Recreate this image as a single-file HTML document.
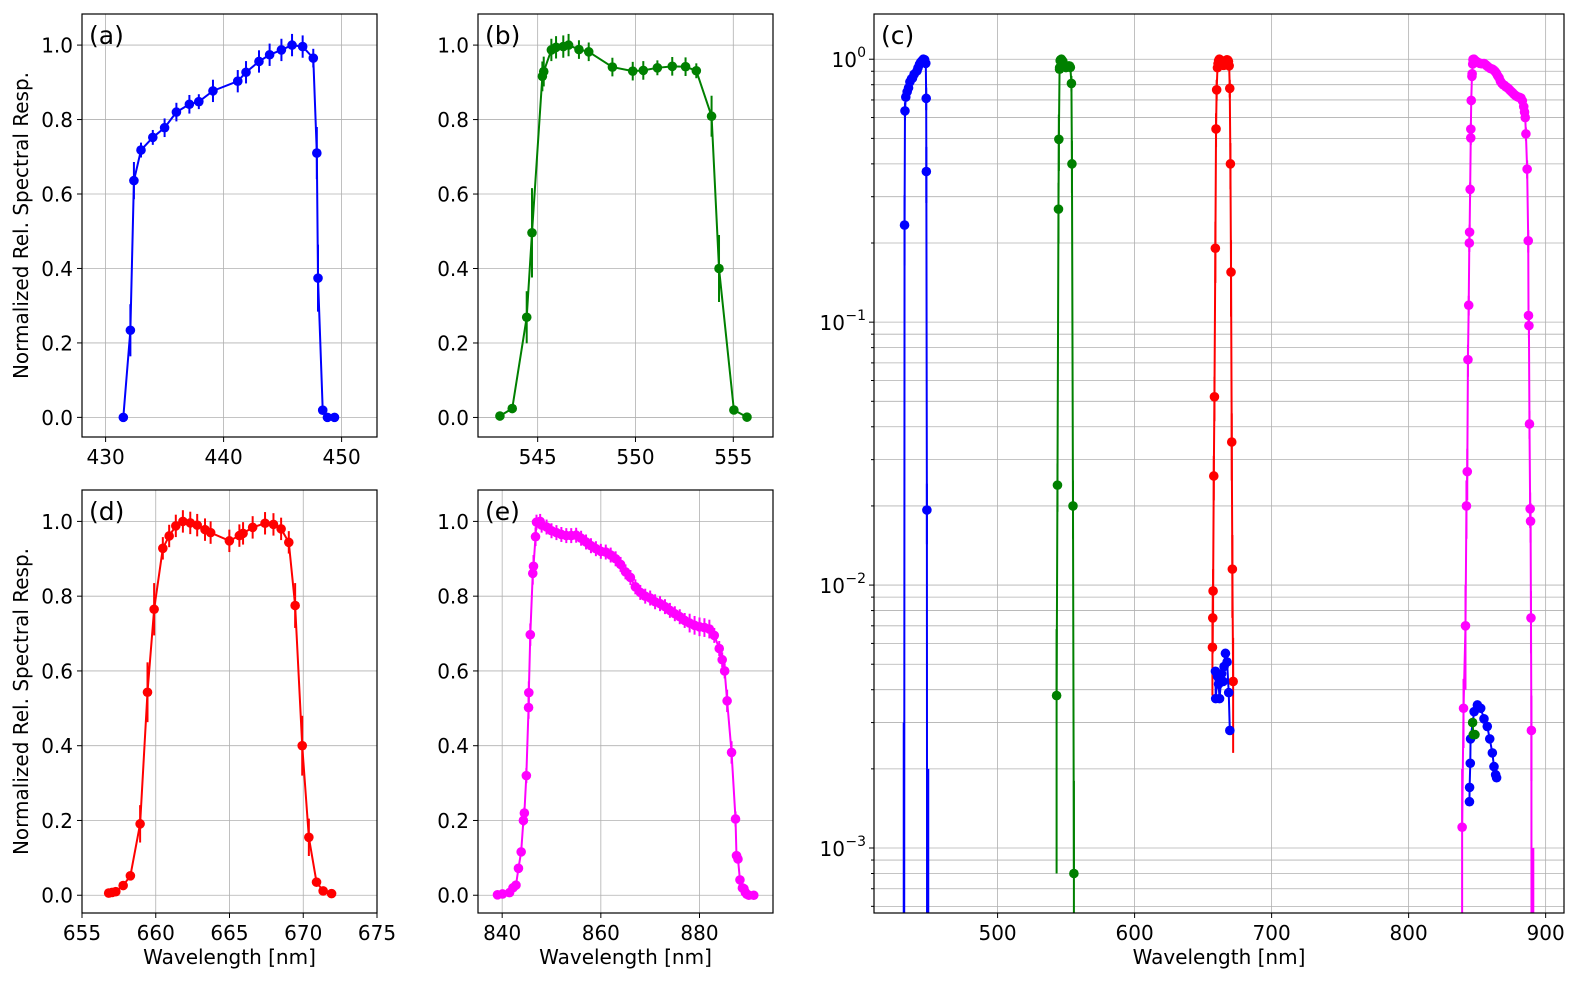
<!DOCTYPE html>
<html><head><meta charset="utf-8">
<style>
html,body{margin:0;padding:0;background:#fff;width:1580px;height:981px;overflow:hidden;}
svg{display:block;font-family:"DejaVu Sans","Liberation Sans",sans-serif;}
</style></head>
<body>
<svg id="fig" width="1580" height="981" viewBox="0 0 1580 981" xmlns="http://www.w3.org/2000/svg"></svg>
<script>
// ---- panel (a) blue ----
const aX=[431.5,432.1,432.4,433.0,434.0,435.0,436.0,437.1,437.9,439.1,441.2,441.9,443.0,443.9,444.9,445.8,446.7,447.6,447.9,448.0,448.4,448.8,449.4];
const aY=[0,0.234,0.636,0.718,0.752,0.778,0.82,0.841,0.848,0.877,0.903,0.927,0.956,0.974,0.987,1.0,0.996,0.965,0.71,0.374,0.0193,0,0];
const aE=[0.003,0.07,0.05,0.02,0.02,0.025,0.025,0.025,0.02,0.03,0.03,0.03,0.03,0.03,0.03,0.03,0.03,0.025,0.07,0.09,0.005,0.002,0.002];
// ---- panel (b) green ----
const bX=[543.07,543.7,544.44,544.71,545.24,545.31,545.7,545.94,546.31,546.58,547.11,547.61,548.82,549.86,550.4,551.12,551.88,552.56,553.11,553.89,554.27,555.03,555.7];
const bY=[0.0038,0.024,0.269,0.496,0.916,0.929,0.987,0.994,0.996,1.0,0.988,0.982,0.941,0.93,0.932,0.939,0.943,0.942,0.931,0.809,0.40,0.02,0.0008];
const bE=[0.003,0.005,0.07,0.12,0.04,0.04,0.03,0.03,0.03,0.03,0.025,0.025,0.025,0.025,0.025,0.02,0.025,0.025,0.02,0.055,0.09,0.005,0.001];
// ---- panel (d) red ----
const dX=[656.81,657.04,657.29,657.79,658.28,658.94,659.44,659.89,660.48,660.91,661.36,661.84,662.34,662.81,663.34,663.72,664.99,665.67,665.92,666.57,667.41,667.98,668.5,669.02,669.45,669.93,670.38,670.9,671.35,671.92];
const dY=[0.0058,0.0075,0.0095,0.026,0.052,0.191,0.543,0.765,0.928,0.961,0.988,1.0,0.996,0.99,0.978,0.97,0.948,0.962,0.968,0.984,0.995,0.992,0.98,0.944,0.775,0.40,0.155,0.035,0.0115,0.0043];
const dE=[0.002,0.002,0.002,0.005,0.01,0.05,0.08,0.07,0.03,0.03,0.03,0.03,0.03,0.03,0.03,0.03,0.03,0.03,0.03,0.03,0.03,0.03,0.03,0.03,0.06,0.08,0.05,0.01,0.004,0.002];
// ---- panel (e) magenta ----
const eX=[839.05,840.07,841.5,842.2,842.8,843.3,843.85,844.3,844.5,844.9,845.35,845.4,845.7,846.2,846.35,846.76,846.96,847.7,848,849,850,851,852,853,854,855,856,857,858,859,860,861,862,863,864,865,866,867,868,869,870,871,872,873,874,875,876,877,878,879,880,881,882,883,884,884.6,885.1,885.6,886.5,887.3,887.5,887.8,888.2,888.7,889.0,889.3,889.6,890,891];
const eY=[0.0012,0.0034,0.007,0.02,0.027,0.072,0.116,0.2,0.22,0.32,0.502,0.542,0.697,0.861,0.88,0.959,0.998,1.0,0.99,0.985,0.975,0.97,0.965,0.962,0.962,0.963,0.955,0.945,0.935,0.927,0.92,0.918,0.91,0.9,0.885,0.865,0.85,0.825,0.81,0.8,0.795,0.785,0.78,0.772,0.762,0.753,0.745,0.735,0.728,0.722,0.718,0.716,0.712,0.695,0.66,0.63,0.6,0.52,0.382,0.204,0.106,0.097,0.041,0.0195,0.0175,0.0075,0.0028,0,0];
const eE=[0.0008,0.001,0.003,0.005,0.006,0.01,0.01,0.015,0.015,0.02,0.03,0.03,0.03,0.03,0.03,0.025,0.02,0.02,0.02,0.02,0.02,0.02,0.02,0.02,0.02,0.02,0.02,0.02,0.02,0.02,0.02,0.02,0.02,0.02,0.02,0.02,0.02,0.02,0.02,0.02,0.02,0.02,0.02,0.02,0.02,0.02,0.02,0.02,0.025,0.025,0.025,0.025,0.025,0.02,0.02,0.02,0.02,0.03,0.03,0.02,0.01,0.01,0.005,0.003,0.003,0.002,0.001,0.001,0.001];
// ---- panel (c) out-of-band leak series ----
const leakBlueRedX=[659.0,659.2,660.5,661.3,662.0,663.5,664.6,665.3,666.3,667.5,668.7,669.5];
const leakBlueRedY=[0.0047,0.0037,0.0045,0.0042,0.0037,0.0046,0.0043,0.0049,0.0055,0.0051,0.0039,0.0028];
const leakBlueNirX=[844.4,844.5,845.0,845.2,847.8,850.2,852.6,855.0,857.4,859.2,861.1,862.3,863.5,864.2];
const leakBlueNirY=[0.0015,0.0017,0.0021,0.0026,0.0033,0.0035,0.0034,0.0031,0.0029,0.0026,0.0023,0.00204,0.0019,0.00185];
const leakGreenNirX=[846.7,847.2,848.4];
const leakGreenNirY=[0.003,0.0027,0.0027];
const linTicks=[0,0.2,0.4,0.6,0.8,1.0];
const linTickLabels=["0.0","0.2","0.4","0.6","0.8","1.0"];

const FS=20;
const NS="http://www.w3.org/2000/svg";
const svg=document.getElementById('fig');
function mk(tag,attrs,parent){const e=document.createElementNS(NS,tag);for(const k in attrs)e.setAttribute(k,attrs[k]);(parent||svg).appendChild(e);return e;}

function panel(p){
  const g=mk('g',{});
  
  
  const W=p.r-p.l,H=p.b-p.t;
  const sx=v=>p.l+(v-p.x0)/(p.x1-p.x0)*W;
  const sy=p.log?(v=>{const lv=Math.log10(Math.max(v,1e-7));return p.b-(lv-Math.log10(p.y0))/(Math.log10(p.y1)-Math.log10(p.y0))*H;})
                :(v=>p.b-(v-p.y0)/(p.y1-p.y0)*H);
  const cid='clip-'+p.id;
  const cp=mk('clipPath',{id:cid},g);mk('rect',{x:p.l,y:p.t,width:W,height:H},cp);
  const grid=mk('g',{stroke:'#b0b0b0','stroke-width':0.8},g);
  
  
  p.xt.forEach(v=>{const x=sx(v);mk('line',{x1:x,x2:x,y1:p.t,y2:p.b},grid);
    mk('line',{x1:x,x2:x,y1:p.b,y2:p.b+5,stroke:'#000','stroke-width':1},g);
    const t=mk('text',{x:x,y:p.b+27,'font-size':FS,'text-anchor':'middle',fill:'#000'},g);t.textContent=String(v);
    
    });
  if(p.log){
    for(let d=-4;d<=0;d++){for(let m=1;m<10;m++){const v=m*Math.pow(10,d);if(v<p.y0||v>p.y1)continue;const y=sy(v);
      mk('line',{x1:p.l,x2:p.r,y1:y,y2:y},grid);
      mk('line',{x1:p.l-(m===1?5:3),x2:p.l,y1:y,y2:y,stroke:'#000','stroke-width':1},g);
      if(m===1){
        const t=mk('text',{x:p.l-8-(d===0?9:21),y:y+8,'font-size':FS,'text-anchor':'end',fill:'#000'},g);
        t.textContent='10';
        
        
        const st=mk('text',{x:p.l-8,y:y-2,'font-size':14,'text-anchor':'end',fill:'#000'},g);
        st.textContent=d===0?'0':'\u2212'+(-d);
        
        }}}
  } else {
    linTicks.forEach((v,i)=>{const y=sy(v);mk('line',{x1:p.l,x2:p.r,y1:y,y2:y},grid);
      mk('line',{x1:p.l-5,x2:p.l,y1:y,y2:y,stroke:'#000','stroke-width':1},g);
      const t=mk('text',{x:p.l-9,y:y+7.5,'font-size':FS,'text-anchor':'end',fill:'#000'},g);t.textContent=linTickLabels[i];
      
      });
  }
  const data=mk('g',{'clip-path':'url(#'+cid+')'},g);
  p.series.forEach(s=>{
    const sg=mk('g',{},data);
    
    
    if(s.e){s.x.forEach((x,i)=>{const lo=s.y[i]-s.e[i],hi=s.y[i]+s.e[i];
      mk('line',{x1:sx(x),x2:sx(x),y1:sy(p.log?Math.max(lo,1e-7):lo),y2:sy(hi),stroke:s.c,'stroke-width':2},sg);});}
    const pts=s.x.map((x,i)=>sx(x).toFixed(2)+','+sy(s.y[i]).toFixed(2)).join(' ');
    mk('polyline',{points:pts,fill:'none',stroke:s.c,'stroke-width':2,'stroke-linejoin':'round'},sg);
    s.x.forEach((x,i)=>{const c=mk('circle',{cx:sx(x),cy:sy(s.y[i]),r:4.8,fill:s.c},sg);
      
      });
  });
  mk('rect',{x:p.l,y:p.t,width:W,height:H,fill:'none',stroke:'#000','stroke-width':1.2},g);
  const lb=mk('text',{x:p.l+7,y:p.t+30,'font-size':25,fill:'#000'},g);lb.textContent=p.label;
  
  
  if(p.xlabel){const t=mk('text',{x:(p.l+p.r)/2,y:p.b+51,'font-size':FS,'text-anchor':'middle',fill:'#000'},g);t.textContent='Wavelength [nm]';
    
    }
  if(p.ylabel){const cy=(p.t+p.b)/2;const t=mk('text',{x:28,y:cy,'font-size':FS,'text-anchor':'middle',fill:'#000',transform:'rotate(-90 28 '+cy+')'},g);
    t.textContent='Normalized Rel. Spectral Resp.';
    
    }
}
panel({id:'a',name:'panel-a-blue',label:'(a)',l:82,r:377,t:14,b:437,x0:428.0,x1:453.0,y0:-0.0527,y1:1.0835,xt:[430,440,450],ylabel:true,
  series:[{name:'blue-series',x:aX,y:aY,e:aE,c:'#0000ff'}]});
panel({id:'b',name:'panel-b-green',label:'(b)',l:478,r:773,t:14,b:437,x0:541.95,x1:557.03,y0:-0.0525,y1:1.0835,xt:[545,550,555],
  series:[{name:'green-series',x:bX,y:bY,e:bE,c:'#008000'}]});
panel({id:'d',name:'panel-d-red',label:'(d)',l:82,r:377,t:490,b:913,x0:655,x1:675,y0:-0.0475,y1:1.084,xt:[655,660,665,670,675],ylabel:true,xlabel:true,
  series:[{name:'red-series',x:dX,y:dY,e:dE,c:'#ff0000'}]});
panel({id:'e',name:'panel-e-nir',label:'(e)',l:478,r:773,t:490,b:913,x0:835.1,x1:894.9,y0:-0.0475,y1:1.084,xt:[840,860,880],xlabel:true,
  series:[{name:'magenta-series',x:eX,y:eY,e:eE,c:'#ff00ff'}]});
panel({id:'c',name:'panel-c-log-overview',label:'(c)',l:874,r:1564,t:14,b:913,x0:409.8,x1:913.4,y0:5.66e-4,y1:1.486,log:true,xt:[500,600,700,800,900],xlabel:true,
  series:[{name:'blue-band',x:aX,y:aY,e:aE,c:'#0000ff'},{name:'green-band',x:bX,y:bY,e:bE,c:'#008000'},
          {name:'red-band',x:dX,y:dY,e:dE,c:'#ff0000'},{name:'nir-band',x:eX,y:eY,e:eE,c:'#ff00ff'},
          {name:'blue-leak-red',x:leakBlueRedX,y:leakBlueRedY,c:'#0000ff'},
          {name:'blue-leak-nir',x:leakBlueNirX,y:leakBlueNirY,c:'#0000ff'},
          {name:'green-leak-nir',x:leakGreenNirX,y:leakGreenNirY,c:'#008000'}]});
</script>
</body></html>
